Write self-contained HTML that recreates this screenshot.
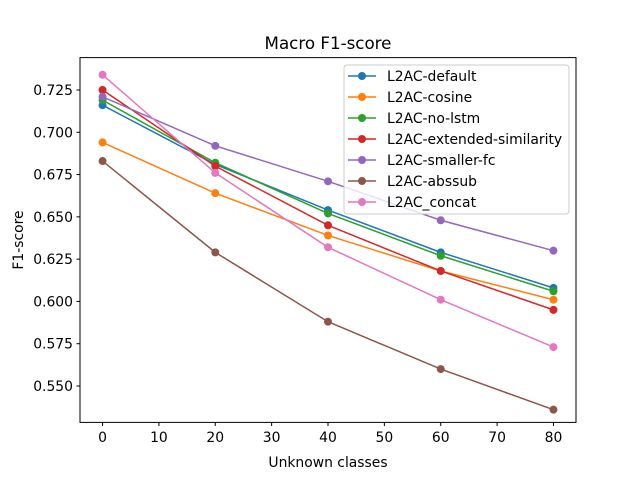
<!DOCTYPE html>
<html><head><meta charset="utf-8"><style>
body{margin:0;background:#fff;font-family:"Liberation Sans","DejaVu Sans",sans-serif}
svg text{font-family:"DejaVu Sans","Liberation Sans",sans-serif}
</style></head><body>
<svg id="chart" width="640" height="480" xmlns="http://www.w3.org/2000/svg">
<rect width="640" height="480" fill="#fff"/>
<text x="328" y="49" font-size="16.7" text-anchor="middle">Macro F1-score</text>
<g id="grid"></g>
<g id="series"></g>
<rect x="80" y="57.6" width="496" height="364.8" fill="none" stroke="#000" stroke-width="1"/>
<text x="328" y="467" font-size="13.9" text-anchor="middle">Unknown classes</text>
<text x="23" y="240" font-size="13.9" text-anchor="middle" transform="rotate(-90 23 240)">F1-score</text>
<g id="legend"></g>
</svg>
<script>
const categories=[0,20,40,60,80];
const seriesNames=["L2AC-default","L2AC-cosine","L2AC-no-lstm","L2AC-extended-similarity","L2AC-smaller-fc","L2AC-abssub","L2AC_concat"];
const sDefault=[0.716,0.681,0.654,0.629,0.608];
const sCosine=[0.694,0.664,0.639,0.618,0.601];
const sNoLstm=[0.719,0.682,0.652,0.627,0.606];
const sExtended=[0.725,0.680,0.645,0.618,0.595];
const sSmallerFc=[0.721,0.692,0.671,0.648,0.630];
const sAbssub=[0.683,0.629,0.588,0.560,0.536];
const sConcat=[0.734,0.676,0.632,0.601,0.573];
const xTicks=[0,10,20,30,40,50,60,70,80];
const yTicks=[0.550,0.575,0.600,0.625,0.650,0.675,0.700,0.725];
const colors=["#1f77b4","#ff7f0e","#2ca02c","#d62728","#9467bd","#8c564b","#e377c2"];
const allSeries=[sDefault,sCosine,sNoLstm,sExtended,sSmallerFc,sAbssub,sConcat];
const NS="http://www.w3.org/2000/svg";
const xs=v=>80+(v+4)*496/88;
const ys=v=>90+(0.725-v)*1691.4;
function mk(t,a,p){const e=document.createElementNS(NS,t);for(const k in a)e.setAttribute(k,a[k]);p.appendChild(e);return e;}
const grid=document.getElementById('grid');
xTicks.forEach(t=>{const x=xs(t);
 const l=mk('line',{x1:x,x2:x,y1:422.4,y2:426,stroke:'#000'},grid);
 
 
 const tx=mk('text',{x:x,y:442,'font-size':13.9,'text-anchor':'middle'},grid);tx.textContent=t;
 
 });
yTicks.forEach(t=>{const y=ys(t);
 const l=mk('line',{x1:76.5,x2:80,y1:y,y2:y,stroke:'#000'},grid);
 
 
 const tx=mk('text',{x:73,y:y+5,'font-size':13.9,'text-anchor':'end'},grid);tx.textContent=t.toFixed(3);
 
 });
const sg=document.getElementById('series');
allSeries.forEach((s,i)=>{
 const g=mk('g',{},sg);
 
 
 mk('polyline',{points:s.map((v,j)=>xs(categories[j])+','+ys(v)).join(' '),fill:'none',stroke:colors[i],'stroke-width':1.5},g);
 s.forEach((v,j)=>{const c=mk('circle',{cx:xs(categories[j]),cy:ys(v),r:4,fill:colors[i]},g);
  
  });
});
const lg=document.getElementById('legend');


mk('rect',{x:344,y:65,width:225,height:149,rx:3,fill:'#fff','fill-opacity':0.8,stroke:'#ccc'},lg);
seriesNames.forEach((n,i)=>{const y=76+i*21;
 const e=mk('g',{},lg);
 
 
 mk('line',{x1:348,x2:376,y1:y,y2:y,stroke:colors[i],'stroke-width':1.5},e);
 mk('circle',{cx:362,cy:y,r:4,fill:colors[i]},e);
 const t=mk('text',{x:387,y:y+5,'font-size':13.9},e);t.textContent=n;});
</script>
</body></html>
